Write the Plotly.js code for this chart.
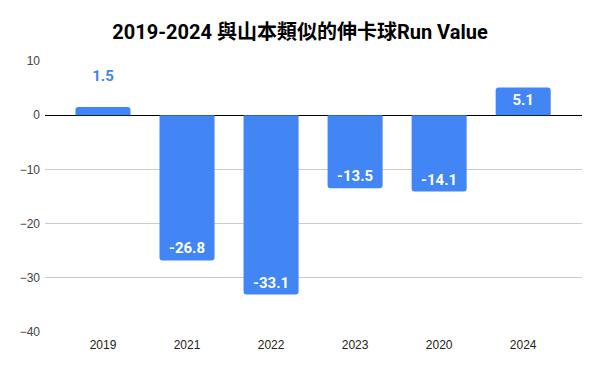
<!DOCTYPE html>
<html><head><meta charset="utf-8">
<script src="https://cdn.plot.ly/plotly-3.0.1.min.js"></script>
<style>html,body{margin:0;padding:0;background:#fff}#chart{width:600px;height:371px}</style>
</head><body><div id="chart"></div>
<script>
const years = ["2019", "2021", "2022", "2023", "2020", "2024"];
const runValues = [1.5, -26.8, -33.1, -13.5, -14.1, 5.1];
const labelPositions = ["outside", "inside", "inside", "inside", "inside", "inside"];

const trace = {
  type: "bar",
  x: years,
  y: runValues,
  text: runValues.map((v, i) => labelPositions[i] === "outside" ? v.toFixed(1) + "<br> " : v.toFixed(1)),
  textposition: labelPositions,
  insidetextanchor: "end",
  constraintext: "none",
  cliponaxis: false,
  textfont: {family: "Roboto, Arial, sans-serif", size: 15, weight: "bold"},
  insidetextfont: {color: "#ffffff", family: "Roboto, Arial, sans-serif", size: 15, weight: "bold"},
  outsidetextfont: {color: "#4285F4", family: "Roboto, Arial, sans-serif", size: 15, weight: "bold"},
  marker: {color: "#4285F4", cornerradius: 3},
  hoverinfo: "none"
};

const layout = {
  width: 600, height: 371,
  margin: {l: 45, r: 18, t: 61, b: 39},
  paper_bgcolor: "#fff", plot_bgcolor: "#fff",
  bargap: 0.345,
  showlegend: false,
  title: {text: "2019-2024 與山本類似的伸卡球Run Value", x: 0.5, xanchor: "center", y: 0.915, yanchor: "middle",
    font: {family: "Roboto, 'Noto Sans CJK TC', sans-serif", size: 20, color: "#000", weight: "bold"}},
  xaxis: {type: "category", range: [-0.69, 5.7], showgrid: false, zeroline: false, showline: false, ticks: "",
    ticklabelstandoff: 4,
    tickfont: {family: "'Liberation Sans', Arial, sans-serif", size: 12, color: "#222"}},
  yaxis: {range: [-40, 10], dtick: 10, tick0: 0, showgrid: true, gridcolor: "#cccccc", gridwidth: 1,
    zeroline: true, zerolinecolor: "#000", zerolinewidth: 1, showline: false, ticks: "",
    ticklabelstandoff: 4,
    tickfont: {family: "'Liberation Sans', Arial, sans-serif", size: 12, color: "#444"}}
};

Plotly.newPlot("chart", [trace], layout, {displayModeBar: false, staticPlot: true});
</script></body></html>
